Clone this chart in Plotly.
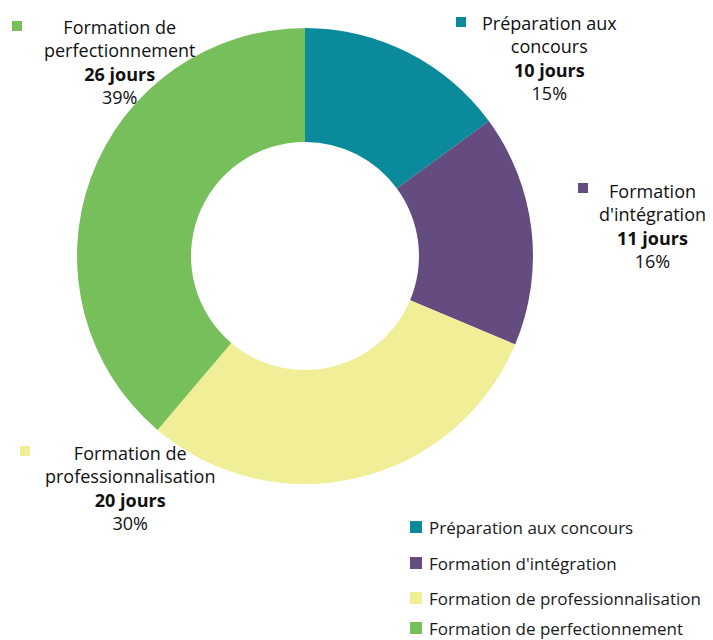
import plotly.graph_objects as go

# ---- data ----
categories = ["Préparation aux concours", "Formation d'intégration",
              "Formation de professionnalisation", "Formation de perfectionnement"]
label_wraps = ["Préparation aux<br>concours", "Formation<br>d'intégration",
               "Formation de<br>professionnalisation", "Formation de<br>perfectionnement"]
days = [10, 11, 20, 26]
colors = ["#0B8A9B", "#654C80", "#F0EE96", "#77BF5B"]

total = sum(days)
pcts = [round(d / total * 100) for d in days]

# page has an 8px body margin: work in window pixels and shift
OFF = 8
W, H = 713 - OFF, 640 - OFF


def px(x):
    return (x - OFF) / W


def py(y):
    return 1 - (y - OFF) / H


cx, cy, R = 305, 256, 228

fig = go.Figure(go.Pie(
    labels=categories, values=days, sort=False, direction="clockwise", rotation=0,
    hole=0.5, marker=dict(colors=colors, line=dict(width=0)),
    textinfo="none", hoverinfo="label+value+percent", showlegend=False,
    domain=dict(x=[px(cx - R), px(cx + R)], y=[py(cy + R), py(cy - R)]),
))

# outside data labels: (text center x, top-line center y, marker x, marker y) in window pixels
label_pos = [(549, 22, 461, 22), (652, 190, 583, 188), (130, 452, 25, 451), (119, 26, 17, 26)]
font_lbl = "Open Sans, DejaVu Sans, sans-serif"
shapes = []
annotations = []
for i, (tx, ty, mx, my) in enumerate(label_pos):
    txt = f"{label_wraps[i]}<br><b>{days[i]} jours</b><br>{pcts[i]}%"
    annotations.append(dict(
        x=px(tx), y=py(ty - 13), xref="paper", yref="paper",
        xanchor="center", yanchor="top", align="center", showarrow=False,
        text=txt, font=dict(family=font_lbl, size=18, color="#111111")))
    s = 10
    shapes.append(dict(type="rect", xref="paper", yref="paper",
                       x0=px(mx - s / 2), x1=px(mx + s / 2),
                       y0=py(my + s / 2), y1=py(my - s / 2),
                       fillcolor=colors[i], line=dict(width=0)))

# manual legend
leg_y = [527, 563, 598, 628]
for i, ly in enumerate(leg_y):
    s = 12
    shapes.append(dict(type="rect", xref="paper", yref="paper",
                       x0=px(410), x1=px(410 + s),
                       y0=py(ly + s / 2), y1=py(ly - s / 2),
                       fillcolor=colors[i], line=dict(width=0)))
    annotations.append(dict(
        x=px(427), y=py(ly), xref="paper", yref="paper",
        xanchor="left", yanchor="middle", showarrow=False, text=categories[i],
        font=dict(family="Open Sans, sans-serif", size=17, color="#1a1a1a")))

fig.update_layout(
    width=W, height=H, margin=dict(l=0, r=0, t=0, b=0),
    paper_bgcolor="white", plot_bgcolor="white",
    shapes=shapes, annotations=annotations,
)

fig.write_html("out.html")
